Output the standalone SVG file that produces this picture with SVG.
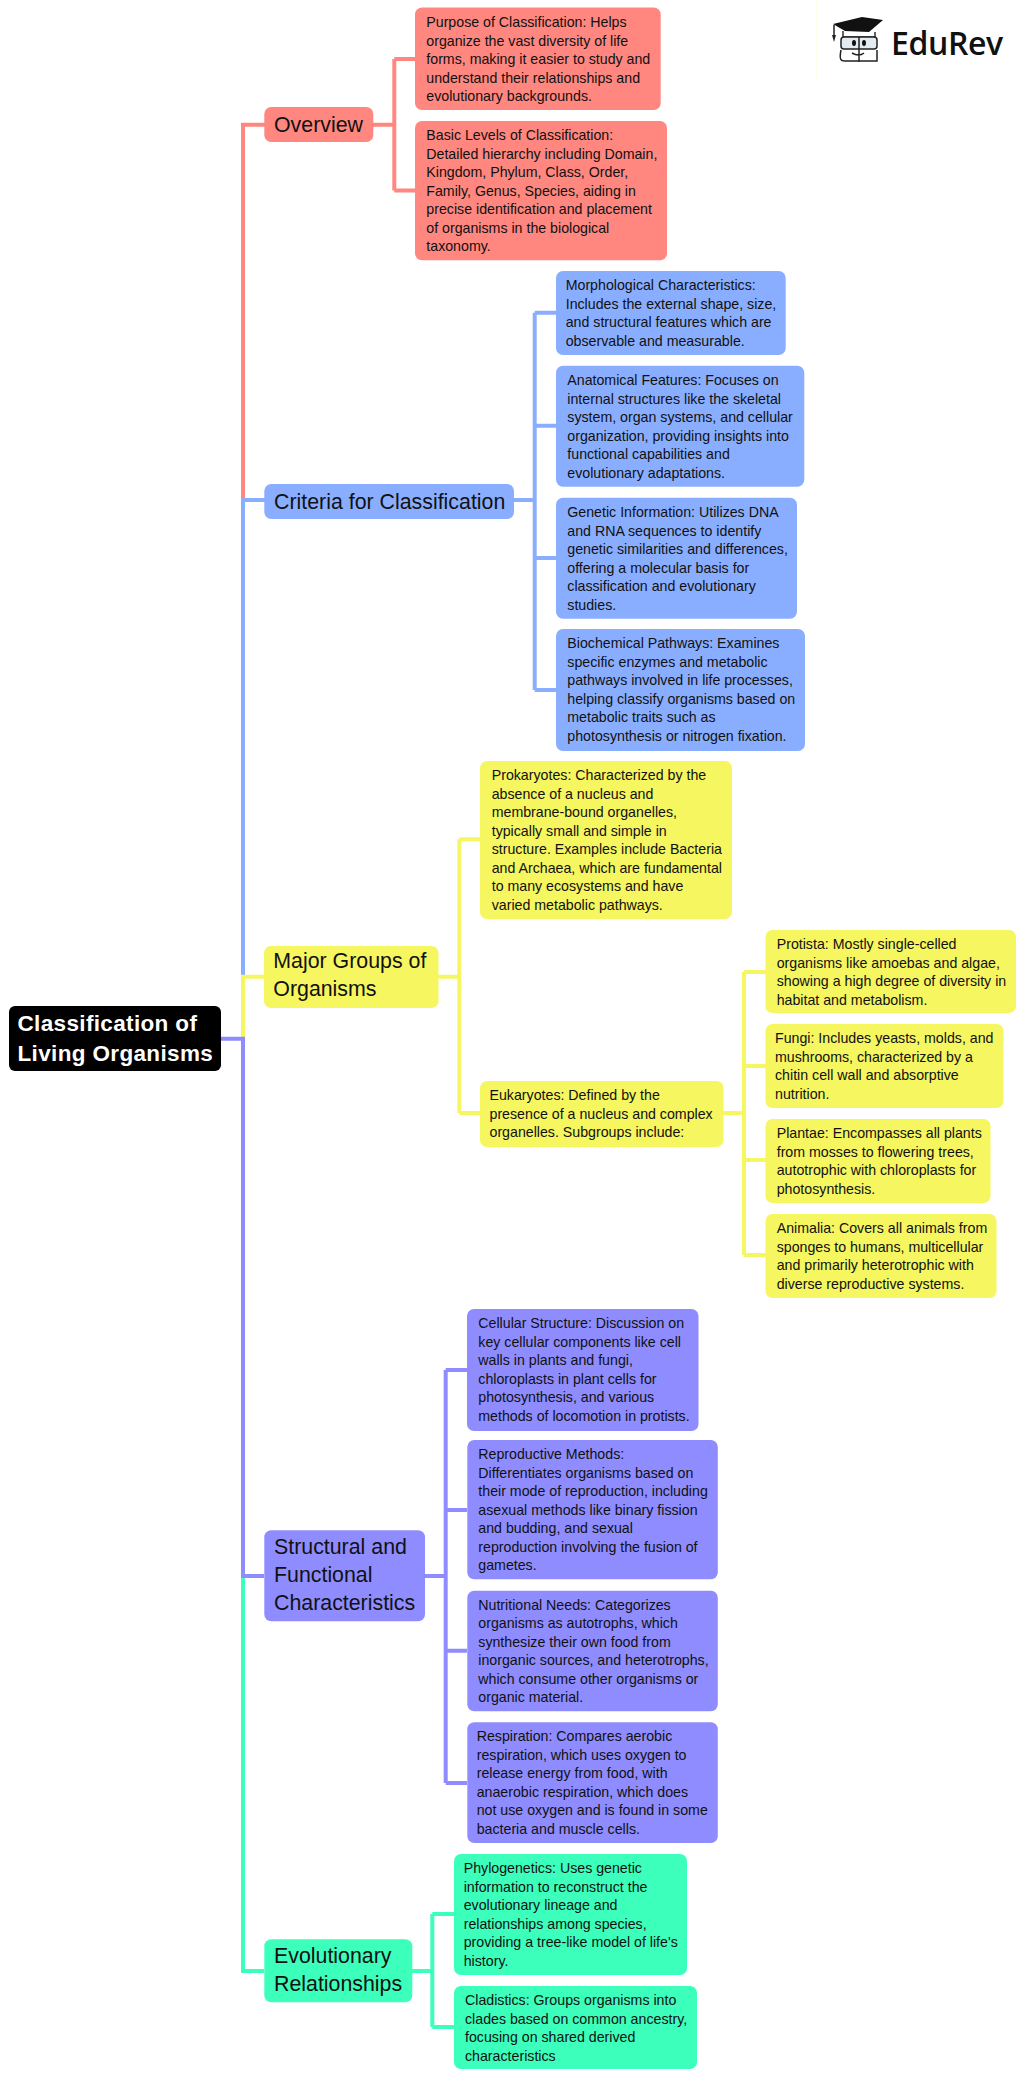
<svg xmlns="http://www.w3.org/2000/svg" width="1024" height="2077" viewBox="0 0 1024 2077">
<style>
text{font-family:"Liberation Sans",Arial,sans-serif;fill:#111}
.b{font-size:14.2px}
.l{font-size:21.35px}
.r{font-size:22.5px;font-weight:700;fill:#fff;letter-spacing:.35px}
.c{fill:none;stroke-width:4}
.red{fill:#FF8780}.blu{fill:#8AAEFF}.yel{fill:#F6F660}.pur{fill:#8E8CFF}.grn{fill:#3CFFBC}
.sr{stroke:#FF8780}.sb{stroke:#8AAEFF}.sy{stroke:#F6F660}.sp{stroke:#8E8CFF}.sg{stroke:#3CFFBC}
</style>
<rect width="1024" height="2077" fill="#fff"/>
<g id="connectors">
<path class="c sr" d="M265 124.700H243V500M373 124.700H394.300M394.300 59H416M394.300 190.500H416M394.300 59V190.500"/>
<path class="c sb" d="M265 500H243V977M514 500H534.700M534.700 312.700H556M534.700 425.700H556M534.700 558H556M534.700 690H556M534.700 312.700V690"/>
<path class="c sy" d="M264 976.700H243V1039M438 976.700H459.300M459.300 839.300H481M459.300 1113H481M459.300 839.300V1113M723 1113H744M744 972H766M744 1066H766M744 1160H766M744 1255H766M744 972V1255"/>
<path class="c sg" d="M243 1576V1971H264M412 1971H432.300M432.300 1914H454M432.300 2027H454M432.300 1914V2027"/>
<path class="c sp" d="M221 1038.700H243V1576H264M425 1576H445.700M445.700 1370H467M445.700 1510H467M445.700 1650.700H467M445.700 1783H467M445.700 1370V1783"/>
</g>
<g id="root"><rect x="9" y="1006" width="212" height="65" rx="6" fill="#000"/><text class="r" x="17.500" y="1031">Classification of<tspan x="17.500" dy="29.500">Living Organisms</tspan></text></g>
<g id="overview"><rect class="red" x="264.300" y="107" width="109" height="35" rx="7"/><text class="l" x="274" y="131.500">Overview</text></g>
<g id="purpose"><rect class="red" x="415" y="7.500" width="245.700" height="102.500" rx="7"/><text class="b" x="426.300" y="27">Purpose of Classification: Helps<tspan x="426.300" dy="18.500">organize the vast diversity of life</tspan><tspan x="426.300" dy="18.500">forms, making it easier to study and</tspan><tspan x="426.300" dy="18.500">understand their relationships and</tspan><tspan x="426.300" dy="18.500">evolutionary backgrounds.</tspan></text></g>
<g id="basic"><rect class="red" x="415" y="121" width="252" height="139.300" rx="7"/><text class="b" x="426.300" y="140">Basic Levels of Classification:<tspan x="426.300" dy="18.500">Detailed hierarchy including Domain,</tspan><tspan x="426.300" dy="18.500">Kingdom, Phylum, Class, Order,</tspan><tspan x="426.300" dy="18.500">Family, Genus, Species, aiding in</tspan><tspan x="426.300" dy="18.500">precise identification and placement</tspan><tspan x="426.300" dy="18.500">of organisms in the biological</tspan><tspan x="426.300" dy="18.500">taxonomy.</tspan></text></g>
<g id="criteria"><rect class="blu" x="264.300" y="484" width="249.700" height="35" rx="7"/><text class="l" x="274" y="508.500">Criteria for Classification</text></g>
<g id="morph"><rect class="blu" x="556" y="271" width="229.700" height="84" rx="7"/><text class="b" x="565.700" y="290">Morphological Characteristics:<tspan x="565.700" dy="18.500">Includes the external shape, size,</tspan><tspan x="565.700" dy="18.500">and structural features which are</tspan><tspan x="565.700" dy="18.500">observable and measurable.</tspan></text></g>
<g id="anat"><rect class="blu" x="556" y="365.700" width="248.300" height="121" rx="7"/><text class="b" x="567.300" y="385">Anatomical Features: Focuses on<tspan x="567.300" dy="18.500">internal structures like the skeletal</tspan><tspan x="567.300" dy="18.500">system, organ systems, and cellular</tspan><tspan x="567.300" dy="18.500">organization, providing insights into</tspan><tspan x="567.300" dy="18.500">functional capabilities and</tspan><tspan x="567.300" dy="18.500">evolutionary adaptations.</tspan></text></g>
<g id="genetic"><rect class="blu" x="556" y="497.700" width="241" height="121" rx="7"/><text class="b" x="567.300" y="517">Genetic Information: Utilizes DNA<tspan x="567.300" dy="18.500">and RNA sequences to identify</tspan><tspan x="567.300" dy="18.500">genetic similarities and differences,</tspan><tspan x="567.300" dy="18.500">offering a molecular basis for</tspan><tspan x="567.300" dy="18.500">classification and evolutionary</tspan><tspan x="567.300" dy="18.500">studies.</tspan></text></g>
<g id="biochem"><rect class="blu" x="556" y="629" width="249" height="122" rx="7"/><text class="b" x="567.300" y="648">Biochemical Pathways: Examines<tspan x="567.300" dy="18.500">specific enzymes and metabolic</tspan><tspan x="567.300" dy="18.500">pathways involved in life processes,</tspan><tspan x="567.300" dy="18.500">helping classify organisms based on</tspan><tspan x="567.300" dy="18.500">metabolic traits such as</tspan><tspan x="567.300" dy="18.500">photosynthesis or nitrogen fixation.</tspan></text></g>
<g id="major"><rect class="yel" x="264" y="946" width="174.500" height="62" rx="7"/><text class="l" x="273.300" y="968.300">Major Groups of<tspan x="273.300" dy="27.700">Organisms</tspan></text></g>
<g id="prok"><rect class="yel" x="480" y="761" width="252" height="158" rx="7"/><text class="b" x="491.700" y="780">Prokaryotes: Characterized by the<tspan x="491.700" dy="18.500">absence of a nucleus and</tspan><tspan x="491.700" dy="18.500">membrane-bound organelles,</tspan><tspan x="491.700" dy="18.500">typically small and simple in</tspan><tspan x="491.700" dy="18.500">structure. Examples include Bacteria</tspan><tspan x="491.700" dy="18.500">and Archaea, which are fundamental</tspan><tspan x="491.700" dy="18.500">to many ecosystems and have</tspan><tspan x="491.700" dy="18.500">varied metabolic pathways.</tspan></text></g>
<g id="euk"><rect class="yel" x="480" y="1081" width="243.500" height="66" rx="7"/><text class="b" x="489.500" y="1100">Eukaryotes: Defined by the<tspan x="489.500" dy="18.500">presence of a nucleus and complex</tspan><tspan x="489.500" dy="18.500">organelles. Subgroups include:</tspan></text></g>
<g id="protista"><rect class="yel" x="765.500" y="930" width="250.500" height="83" rx="7"/><text class="b" x="776.700" y="949">Protista: Mostly single-celled<tspan x="776.700" dy="18.500">organisms like amoebas and algae,</tspan><tspan x="776.700" dy="18.500">showing a high degree of diversity in</tspan><tspan x="776.700" dy="18.500">habitat and metabolism.</tspan></text></g>
<g id="fungi"><rect class="yel" x="765.500" y="1024" width="238" height="84" rx="7"/><text class="b" x="775" y="1043">Fungi: Includes yeasts, molds, and<tspan x="775" dy="18.500">mushrooms, characterized by a</tspan><tspan x="775" dy="18.500">chitin cell wall and absorptive</tspan><tspan x="775" dy="18.500">nutrition.</tspan></text></g>
<g id="plantae"><rect class="yel" x="765.500" y="1119" width="225" height="84" rx="7"/><text class="b" x="776.700" y="1138">Plantae: Encompasses all plants<tspan x="776.700" dy="18.500">from mosses to flowering trees,</tspan><tspan x="776.700" dy="18.500">autotrophic with chloroplasts for</tspan><tspan x="776.700" dy="18.500">photosynthesis.</tspan></text></g>
<g id="animalia"><rect class="yel" x="765.500" y="1214" width="231" height="84" rx="7"/><text class="b" x="776.700" y="1233">Animalia: Covers all animals from<tspan x="776.700" dy="18.500">sponges to humans, multicellular</tspan><tspan x="776.700" dy="18.500">and primarily heterotrophic with</tspan><tspan x="776.700" dy="18.500">diverse reproductive systems.</tspan></text></g>
<g id="structural"><rect class="pur" x="264.300" y="1530.300" width="160.700" height="91" rx="7"/><text class="l" x="274" y="1554">Structural and<tspan x="274" dy="27.800">Functional</tspan><tspan x="274" dy="27.800">Characteristics</tspan></text></g>
<g id="cellular"><rect class="pur" x="467" y="1309" width="231.500" height="122" rx="7"/><text class="b" x="478.300" y="1328">Cellular Structure: Discussion on<tspan x="478.300" dy="18.500">key cellular components like cell</tspan><tspan x="478.300" dy="18.500">walls in plants and fungi,</tspan><tspan x="478.300" dy="18.500">chloroplasts in plant cells for</tspan><tspan x="478.300" dy="18.500">photosynthesis, and various</tspan><tspan x="478.300" dy="18.500">methods of locomotion in protists.</tspan></text></g>
<g id="repro"><rect class="pur" x="467.300" y="1440" width="250.500" height="139.300" rx="7"/><text class="b" x="478.300" y="1459">Reproductive Methods:<tspan x="478.300" dy="18.500">Differentiates organisms based on</tspan><tspan x="478.300" dy="18.500">their mode of reproduction, including</tspan><tspan x="478.300" dy="18.500">asexual methods like binary fission</tspan><tspan x="478.300" dy="18.500">and budding, and sexual</tspan><tspan x="478.300" dy="18.500">reproduction involving the fusion of</tspan><tspan x="478.300" dy="18.500">gametes.</tspan></text></g>
<g id="nutri"><rect class="pur" x="467.300" y="1590.700" width="250.500" height="120.600" rx="7"/><text class="b" x="478.300" y="1609.500">Nutritional Needs: Categorizes<tspan x="478.300" dy="18.500">organisms as autotrophs, which</tspan><tspan x="478.300" dy="18.500">synthesize their own food from</tspan><tspan x="478.300" dy="18.500">inorganic sources, and heterotrophs,</tspan><tspan x="478.300" dy="18.500">which consume other organisms or</tspan><tspan x="478.300" dy="18.500">organic material.</tspan></text></g>
<g id="resp"><rect class="pur" x="467.300" y="1722.300" width="250.500" height="120.700" rx="7"/><text class="b" x="476.700" y="1741">Respiration: Compares aerobic<tspan x="476.700" dy="18.500">respiration, which uses oxygen to</tspan><tspan x="476.700" dy="18.500">release energy from food, with</tspan><tspan x="476.700" dy="18.500">anaerobic respiration, which does</tspan><tspan x="476.700" dy="18.500">not use oxygen and is found in some</tspan><tspan x="476.700" dy="18.500">bacteria and muscle cells.</tspan></text></g>
<g id="evol"><rect class="grn" x="264.300" y="1939.300" width="148" height="63" rx="7"/><text class="l" x="274" y="1963">Evolutionary<tspan x="274" dy="27.800">Relationships</tspan></text></g>
<g id="phylo"><rect class="grn" x="454" y="1854" width="233" height="121" rx="7"/><text class="b" x="463.700" y="1873">Phylogenetics: Uses genetic<tspan x="463.700" dy="18.500">information to reconstruct the</tspan><tspan x="463.700" dy="18.500">evolutionary lineage and</tspan><tspan x="463.700" dy="18.500">relationships among species,</tspan><tspan x="463.700" dy="18.500">providing a tree-like model of life's</tspan><tspan x="463.700" dy="18.500">history.</tspan></text></g>
<g id="clad"><rect class="grn" x="454" y="1986" width="243" height="83" rx="7"/><text class="b" x="465" y="2005">Cladistics: Groups organisms into<tspan x="465" dy="18.500">clades based on common ancestry,</tspan><tspan x="465" dy="18.500">focusing on shared derived</tspan><tspan x="465" dy="18.500">characteristics</tspan></text></g>
<g id="logo">
<path d="M816.500 0V78" stroke="#FDFDE8" fill="none"/>
<path d="M833 24L862 17L883 20L869 32L845 31Z" fill="#111"/>
<path d="M834 25V38" stroke="#222" stroke-width="1.500" fill="none"/><path d="M832 35H836L834 42Z" fill="#222"/>
<path d="M843 31V37H875V32" stroke="#333" stroke-width="1.500" fill="none"/>
<rect x="841" y="37" width="36" height="12" rx="3" fill="#E4EBF0" stroke="#222" stroke-width="1.500"/>
<path d="M841 50C839 60 841 61 845 61H877V50M859 37V62M852 53Q859 57 864 53" fill="none" stroke="#222" stroke-width="1.500"/>
<ellipse cx="854" cy="43" rx="2" ry="3" fill="#111"/><ellipse cx="864" cy="43" rx="2" ry="3" fill="#111"/>
<text x="891" y="55" style="font-family:'Open Sans','Noto Sans',sans-serif;font-weight:600;font-size:32px;letter-spacing:-.4px;fill:#111">EduRev</text>
</g>
</svg>
